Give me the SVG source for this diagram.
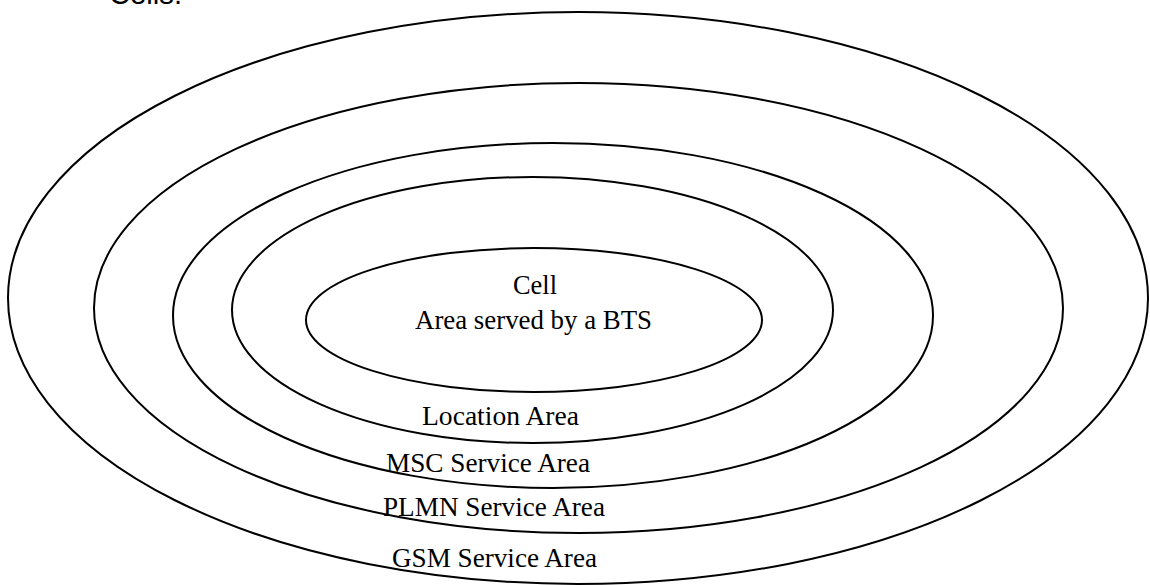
<svg xmlns="http://www.w3.org/2000/svg" width="1150" height="585" viewBox="0 0 1150 585">
<style>
.area{fill:none;stroke:#000;stroke-width:2}
.lbl{font-family:"Liberation Serif","Times New Roman",serif;font-size:27px;fill:#000;text-anchor:middle}
.top{font-family:"Liberation Sans",Arial,sans-serif;font-size:29px;fill:#000}
</style>
<rect width="1150" height="585" fill="#fff"/>
<text class="top" x="109" y="4" textLength="73" lengthAdjust="spacingAndGlyphs">Cells.</text>
<g id="gsm">
<ellipse class="area" cx="578" cy="298" rx="570" ry="286"/>
<text class="lbl" x="494.5" y="567" textLength="205" lengthAdjust="spacingAndGlyphs">GSM Service Area</text>
</g>
<g id="plmn">
<ellipse class="area" cx="578.5" cy="308" rx="484.5" ry="225"/>
<text class="lbl" x="494" y="516" textLength="222" lengthAdjust="spacingAndGlyphs">PLMN Service Area</text>
</g>
<g id="msc">
<ellipse class="area" cx="553" cy="315.5" rx="380" ry="172.5"/>
<text class="lbl" x="488" y="472" textLength="204" lengthAdjust="spacingAndGlyphs">MSC Service Area</text>
</g>
<g id="location">
<ellipse class="area" cx="532.5" cy="310" rx="300.5" ry="133"/>
<text class="lbl" x="500.5" y="425" textLength="157" lengthAdjust="spacingAndGlyphs">Location Area</text>
</g>
<g id="cell">
<ellipse class="area" cx="534" cy="320" rx="228" ry="72"/>
<text class="lbl" x="535" y="294" textLength="44" lengthAdjust="spacingAndGlyphs">Cell</text>
<text class="lbl" x="533.5" y="329" textLength="237" lengthAdjust="spacingAndGlyphs">Area served by a BTS</text>
</g>
<g id="connectors"></g>
</svg>
